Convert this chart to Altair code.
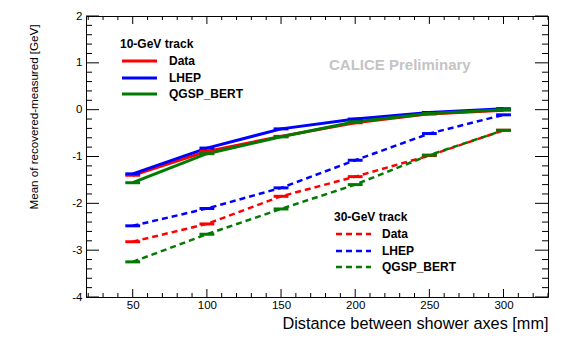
import altair as alt
import pandas as pd

# ---------------- data ----------------
distance = [50, 100, 150, 200, 250, 300]
x_err = 5
series_names = ["Data", "LHEP", "QGSP_BERT"]
series_colors = ["#ff0000", "#0000ff", "#007a00"]

gev10_data = [-1.40, -0.89, -0.57, -0.28, -0.09, -0.01]
gev10_lhep = [-1.37, -0.82, -0.41, -0.20, -0.06, 0.02]
gev10_qgsp = [-1.56, -0.94, -0.58, -0.26, -0.08, 0.00]

gev30_data = [-2.82, -2.44, -1.85, -1.43, -0.98, -0.44]
gev30_lhep = [-2.48, -2.11, -1.67, -1.08, -0.51, -0.11]
gev30_qgsp = [-3.25, -2.66, -2.12, -1.60, -0.97, -0.44]

x_labels = [50, 100, 150, 200, 250, 300]
x_minor = [20, 30, 40, 60, 70, 80, 90, 110, 120, 130, 140, 160, 170, 180, 190,
           210, 220, 230, 240, 260, 270, 280, 290, 310, 320, 330]
y_labels = [-4, -3, -2, -1, 0, 1, 2]
y_minor = [round(-4 + 0.2 * i, 1) for i in range(31) if i % 5 != 0]

legend10_title = "10-GeV track"
legend30_title = "30-GeV track"
watermark = "CALICE Preliminary"
x_title = "Distance between shower axes [mm]"
y_title = "Mean of recovered-measured [GeV]"

rows = []
for track, vals in [("10", [gev10_data, gev10_lhep, gev10_qgsp]),
                    ("30", [gev30_data, gev30_lhep, gev30_qgsp])]:
    for name, v in zip(series_names, vals):
        for d, y in zip(distance, v):
            rows.append(dict(track=track, series=name, x=d, y=y))
df = pd.DataFrame(rows)

# ---------------- layout ----------------
W, H = 462, 281
FONT = "Liberation Sans"
xs = alt.Scale(domain=[18.5, 330], nice=False, zero=False)
ys = alt.Scale(domain=[-4, 2], nice=False, zero=False)
color = alt.Color("series:N", scale=alt.Scale(domain=series_names, range=series_colors), legend=None)

x_axis = alt.Axis(values=x_labels, ticks=False, domain=False, grid=False,
                  labelFont=FONT, labelFontSize=11.5, labelColor="black", labelPadding=2,
                  title=x_title, titleFont=FONT, titleFontSize=16.3, titleFontWeight="normal",
                  titleColor="black", titleAnchor="end", titleAlign="right",
                  titleBaseline="middle", titleX=W, titleY=26)
y_axis = alt.Axis(values=y_labels, ticks=False, domain=False, grid=False,
                  labelExpr="'' + datum.value",
                  labelFont=FONT, labelFontSize=11.5, labelColor="black", labelPadding=4,
                  title=y_title, titleFont=FONT, titleFontSize=11.6, titleFontWeight="normal",
                  titleColor="black", titleAngle=-90, titleAlign="right",
                  titleBaseline="middle", titleX=-52, titleY=8)

def X(field):
    return alt.X(field, scale=xs, axis=x_axis, title=x_title)

def Y(field):
    return alt.Y(field, scale=ys, axis=y_axis, title=y_title)

base = alt.Chart(df)
solid = base.transform_filter("datum.track == '10'").mark_line(strokeWidth=3).encode(
    x=X("x:Q"), y=Y("y:Q"), color=color, order="x:Q")
dashed = base.transform_filter("datum.track == '30'").mark_line(strokeWidth=2.5, strokeDash=[6, 4]).encode(
    x=X("x:Q"), y=Y("y:Q"), color=color, order="x:Q")
errs = base.transform_calculate(lo=f"datum.x - {x_err}", hi=f"datum.x + {x_err}").mark_rule(strokeWidth=3).encode(
    x=X("lo:Q"), x2="hi:Q", y=Y("y:Q"), color=color)

layers = [solid, dashed, errs]

# inward ROOT-style ticks on all four sides
def ytick(vals, length):
    d = pd.DataFrame({"v": vals})
    left = alt.Chart(d).mark_rule(color="black", strokeWidth=1).encode(
        y=Y("v:Q"), x=alt.value(0), x2=alt.value(length))
    right = alt.Chart(d).mark_rule(color="black", strokeWidth=1).encode(
        y=Y("v:Q"), x=alt.value(W - length), x2=alt.value(W))
    return [left, right]

def xtick(vals, length):
    d = pd.DataFrame({"v": vals})
    bottom = alt.Chart(d).mark_rule(color="black", strokeWidth=1).encode(
        x=X("v:Q"), y=alt.value(H - length), y2=alt.value(H))
    top = alt.Chart(d).mark_rule(color="black", strokeWidth=1).encode(
        x=X("v:Q"), y=alt.value(0), y2=alt.value(length))
    return [bottom, top]

layers += ytick(y_labels, 13) + ytick(y_minor, 6) + xtick(x_labels, 8) + xtick(x_minor, 4)

def text(t, x, y, size=12, weight="bold", col="black"):
    return alt.Chart(pd.DataFrame({"t": [t]})).mark_text(
        font=FONT, fontSize=size, fontWeight=weight, color=col, align="left", baseline="middle"
    ).encode(x=alt.value(x), y=alt.value(y), text="t:N")

layers.append(text(watermark, 243, 49, size=15, col="#c4c4c4"))

def legend(title, tx, ty, lx1, lx2, labx, rows_y, dash, width):
    out = [text(title, tx, ty)]
    for name, col, yy in zip(series_names, series_colors, rows_y):
        mk = dict(color=col, strokeWidth=width)
        if dash:
            mk["strokeDash"] = dash
        out.append(alt.Chart(pd.DataFrame({"s": [name]})).mark_rule(**mk).encode(
            x=alt.value(lx1), x2=alt.value(lx2), y=alt.value(yy)))
        out.append(text(name, labx, yy))
    return out

layers += legend(legend10_title, 34, 28, 36, 71, 83, [45, 62, 78], None, 3)
layers += legend(legend30_title, 248, 201, 250, 285, 296, [218, 235, 251], [6, 4], 2.5)

chart = alt.layer(*layers).properties(
    width=W, height=H,
    padding={"left": 78, "top": 8, "right": 20, "bottom": 40},
    autosize=alt.AutoSizeParams(type="none"),
    background="white",
).configure_view(stroke="black", strokeWidth=1)

chart.save("out.html", embed_options={"renderer": "svg", "actions": False})
